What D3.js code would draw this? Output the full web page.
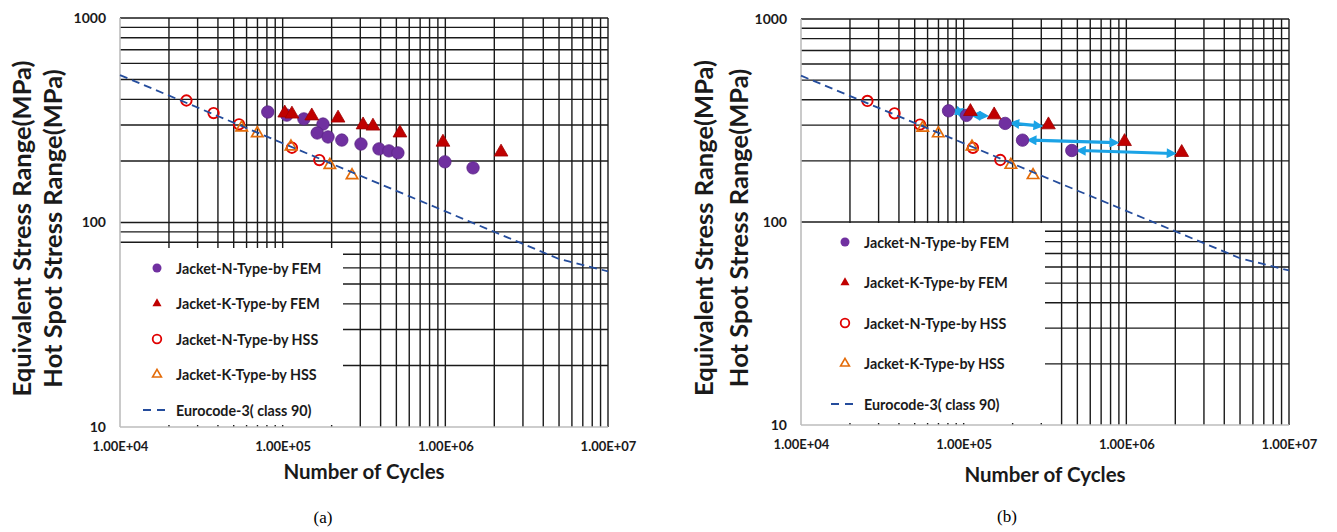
<!DOCTYPE html>
<html>
<head>
<meta charset="utf-8">
<script src="https://cdn.jsdelivr.net/npm/d3@7.9.0/dist/d3.min.js"></script>
<style>
  body { margin: 0; background: #fff; }
  svg { display: block; font-family: Lato, "Open Sans", sans-serif; }
</style>
</head>
<body>
<svg id="chart" width="1337" height="532"></svg>
<script>
// ---- data ----
const cycleTicks = [1e4, 1e5, 1e6, 1e7];
const cycleLabels = ['1.00E+04', '1.00E+05', '1.00E+06', '1.00E+07'];
const stressTicks = [10, 100, 1000];
const stressLabels = ['10', '100', '1000'];

const legendNames = [
  'Jacket-N-Type-by FEM',
  'Jacket-K-Type-by FEM',
  'Jacket-N-Type-by HSS',
  'Jacket-K-Type-by HSS',
  'Eurocode-3( class 90)'
];

// (a) all FEM results
const nFemCyclesA = [8.1e4, 1.06e5, 1.35e5, 1.77e5, 1.63e5, 1.9e5, 2.31e5, 3.03e5, 3.91e5, 4.5e5, 5.11e5, 9.94e5, 1.48e6];
const nFemStressA = [347, 335, 321, 303, 274, 262, 253, 242, 229, 224, 219, 198, 185];
const kFemCyclesA = [1.03e5, 1.14e5, 1.51e5, 2.19e5, 3.12e5, 3.59e5, 5.26e5, 9.67e5, 2.2e6];
const kFemStressA = [343, 339, 332, 324, 300, 296, 274, 247, 221];

// (b) paired FEM results
const nFemCyclesB = [8.07e4, 1.04e5, 1.8e5, 2.3e5, 4.62e5];
const nFemStressB = [353, 335, 306, 253, 225];
const kFemCyclesB = [1.1e5, 1.54e5, 3.32e5, 9.75e5, 2.19e6];
const kFemStressB = [350, 337, 301, 249, 220];

// hot spot stress results (same in both panels)
const nHssCycles = [2.56e4, 3.76e4, 5.39e4, 1.14e5, 1.68e5];
const nHssStress = [395, 343, 302, 232, 202];
const kHssCycles = [5.6e4, 6.98e4, 1.125e5, 1.95e5, 2.67e5];
const kHssStress = [291, 273, 235, 191, 170];

// Eurocode-3 detail category 90 (knee at 5e6)
const euroCycles = [1e4, 5e6, 1e7];
const euroStress = [526, 66.3, 57.7];

const COL = {
  nFem: '#7030A0',
  kFem: '#C00000',
  nHss: '#E00000',
  kHss: '#E46C0A',
  euro: '#244C9C',
  arrow: '#1BA3E6'
};

const svg = d3.select('#chart');

const defs = svg.append('defs');
defs.append('marker')
  .attr('id', 'ah')
  .attr('viewBox', '0 0 10 10')
  .attr('refX', 6).attr('refY', 5)
  .attr('markerWidth', 11).attr('markerHeight', 10)
  .attr('markerUnits', 'userSpaceOnUse')
  .attr('orient', 'auto-start-reverse')
  .append('path')
  .attr('d', 'M0,0L10,5L0,10Z')
  .attr('fill', COL.arrow);

const zip = (a, b) => a.map((v, i) => [v, b[i]]);

function drawPanel(p) {
  const x = d3.scaleLog().domain([1e4, 1e7]).range([p.left, p.right]);
  const y = d3.scaleLog().domain([10, 1000]).range([p.bottom, p.top]);
  const g = svg.append('g');

  // gridlines
  const grid = g.append('g').attr('stroke', '#1a1a1a').attr('stroke-width', 1.4);
  grid.selectAll('line.v')
    .data(x.ticks().filter(d => d > 1e4))
    .join('line')
      .attr('x1', d => x(d)).attr('x2', d => x(d))
      .attr('y1', p.top).attr('y2', p.bottom);
  grid.selectAll('line.h')
    .data(y.ticks().filter(d => d > 10))
    .join('line')
      .attr('x1', p.left).attr('x2', p.right)
      .attr('y1', d => y(d)).attr('y2', d => y(d));

  // legend box hides the grid beneath it
  g.append('rect')
    .attr('x', p.left).attr('y', p.legendTop)
    .attr('width', p.legendRight - p.left)
    .attr('height', p.bottom - p.legendTop - 2)
    .attr('fill', '#fff');

  // axis lines (grey)
  g.append('line')
    .attr('x1', p.left).attr('x2', p.left)
    .attr('y1', p.top).attr('y2', p.bottom)
    .attr('stroke', '#bdbdbd').attr('stroke-width', 1.6);
  g.append('line')
    .attr('x1', p.left).attr('x2', p.right)
    .attr('y1', p.bottom).attr('y2', p.bottom)
    .attr('stroke', '#bdbdbd').attr('stroke-width', 1.6);

  // tick labels
  const yAxis = g.append('g')
    .attr('transform', `translate(${p.left},0)`)
    .call(d3.axisLeft(y).tickValues(stressTicks)
      .tickFormat((d, i) => stressLabels[i]).tickSize(0).tickPadding(14));
  const xAxis = g.append('g')
    .attr('transform', `translate(0,${p.bottom})`)
    .call(d3.axisBottom(x).tickValues(cycleTicks)
      .tickFormat((d, i) => cycleLabels[i]).tickSize(0).tickPadding(15));
  [xAxis, yAxis].forEach(a => {
    a.select('.domain').remove();
    a.selectAll('text')
      .attr('font-family', 'Lato, sans-serif')
      .attr('font-weight', 'bold')
      .attr('fill', '#1a1a1a');
  });
  yAxis.selectAll('text').attr('font-size', 14);
  xAxis.selectAll('text').attr('font-size', 13);

  // axis titles
  g.append('text')
    .attr('x', (p.left + p.right) / 2).attr('y', p.xTitleY)
    .attr('text-anchor', 'middle')
    .attr('font-size', 20.5).attr('font-weight', 'bold').attr('fill', '#1a1a1a')
    .text('Number of Cycles');
  const cy = (p.top + p.bottom) / 2 + 6;
  [['Equivalent Stress Range(MPa)', p.title1], ['Hot Spot Stress Range(MPa)', p.title2]]
    .forEach(([t, tx]) => {
      g.append('text')
        .attr('transform', `translate(${tx},${cy}) rotate(-90)`)
        .attr('text-anchor', 'middle').attr('dominant-baseline', 'central')
        .attr('font-size', 25.5).attr('font-weight', 'bold').attr('fill', '#1a1a1a')
        .text(t);
    });

  // arrows between paired results (panel b)
  if (p.arrows) {
    g.append('g').selectAll('line')
      .data(d3.range(p.nFem[0].length))
      .join('line')
        .attr('x1', i => x(p.nFem[0][i]) + 8)
        .attr('y1', i => y(p.nFem[1][i]))
        .attr('x2', i => x(p.kFem[0][i]) - 9)
        .attr('y2', i => y(p.kFem[1][i]) + 1)
        .attr('stroke', COL.arrow).attr('stroke-width', 3.2)
        .attr('marker-start', 'url(#ah)').attr('marker-end', 'url(#ah)');
  }

  const tri = d3.symbol().type(d3.symbolTriangle);

  // markers
  g.append('g').selectAll('circle')
    .data(zip(...p.nFem))
    .join('circle')
      .attr('cx', d => x(d[0])).attr('cy', d => y(d[1])).attr('r', 6.2)
      .attr('fill', COL.nFem).attr('stroke', '#5b2585').attr('stroke-width', 0.8);
  g.append('g').selectAll('path')
    .data(zip(...p.kFem))
    .join('path')
      .attr('transform', d => `translate(${x(d[0])},${y(d[1])})`)
      .attr('d', tri.size(82)())
      .attr('fill', COL.kFem).attr('stroke', '#9e0000').attr('stroke-width', 0.8);
  g.append('g').selectAll('circle')
    .data(zip(nHssCycles, nHssStress))
    .join('circle')
      .attr('cx', d => x(d[0])).attr('cy', d => y(d[1])).attr('r', 5.2)
      .attr('fill', 'none').attr('stroke', COL.nHss).attr('stroke-width', 1.9);
  g.append('g').selectAll('path')
    .data(zip(kHssCycles, kHssStress))
    .join('path')
      .attr('transform', d => `translate(${x(d[0])},${y(d[1])})`)
      .attr('d', tri.size(56)())
      .attr('fill', 'none').attr('stroke', COL.kHss).attr('stroke-width', 1.7);

  // Eurocode curve
  g.append('path')
    .datum(zip(euroCycles, euroStress))
    .attr('d', d3.line().x(d => x(d[0])).y(d => y(d[1])))
    .attr('fill', 'none').attr('stroke', COL.euro)
    .attr('stroke-width', 1.8).attr('stroke-dasharray', '8,5');

  // legend entries
  const lg = g.append('g');
  legendNames.forEach((name, i) => {
    const ly = p.legendY0 + i * p.legendStep;
    const sx = p.legendSym;
    if (i === 0) lg.append('circle').attr('cx', sx).attr('cy', ly).attr('r', 4.5).attr('fill', COL.nFem);
    if (i === 1) lg.append('path').attr('transform', `translate(${sx},${ly})`).attr('d', tri.size(36)()).attr('fill', COL.kFem);
    if (i === 2) lg.append('circle').attr('cx', sx).attr('cy', ly).attr('r', 4.3).attr('fill', 'none').attr('stroke', COL.nHss).attr('stroke-width', 1.8);
    if (i === 3) lg.append('path').attr('transform', `translate(${sx},${ly})`).attr('d', tri.size(34)()).attr('fill', 'none').attr('stroke', COL.kHss).attr('stroke-width', 1.6);
    if (i === 4) lg.append('line').attr('x1', sx - 14).attr('x2', sx + 10).attr('y1', ly).attr('y2', ly)
      .attr('stroke', COL.euro).attr('stroke-width', 1.8).attr('stroke-dasharray', '8,6');
    lg.append('text')
      .attr('x', p.legendText).attr('y', ly)
      .attr('dominant-baseline', 'central')
      .attr('font-size', 14.3).attr('font-weight', 'bold').attr('fill', '#1a1a1a')
      .text(name);
  });
}

drawPanel({
  left: 120, right: 608, top: 18, bottom: 427,
  legendTop: 248, legendRight: 343,
  legendY0: 268, legendStep: 35.5, legendSym: 157, legendText: 176,
  title1: 21, title2: 52, xTitleY: 479,
  nFem: [nFemCyclesA, nFemStressA], kFem: [kFemCyclesA, kFemStressA],
  arrows: false
});

drawPanel({
  left: 801, right: 1289, top: 19, bottom: 425,
  legendTop: 223, legendRight: 1045,
  legendY0: 242, legendStep: 40.5, legendSym: 845, legendText: 864,
  title1: 703, title2: 738, xTitleY: 482,
  nFem: [nFemCyclesB, nFemStressB], kFem: [kFemCyclesB, kFemStressB],
  arrows: true
});

// captions
svg.append('text').attr('x', 323).attr('y', 523).attr('text-anchor', 'middle')
  .attr('font-family', '"Liberation Serif", serif').attr('font-size', 17).text('(a)');
svg.append('text').attr('x', 1007).attr('y', 522).attr('text-anchor', 'middle')
  .attr('font-family', '"Liberation Serif", serif').attr('font-size', 17).text('(b)');
</script>
</body>
</html>
